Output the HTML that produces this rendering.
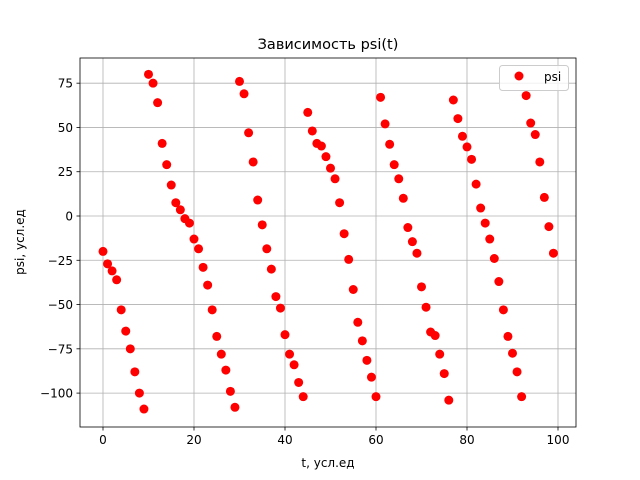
<!DOCTYPE html>
<html><head><meta charset="utf-8"><style>
body{margin:0;background:#fff;}
svg{display:block;font-family:"DejaVu Sans","Liberation Sans",sans-serif;}
</style></head><body>
<svg id="chart" width="640" height="480"></svg>
<script>
const tValues=[...Array(100).keys()];
const psiValues=[-20,-27,-31,-36,-53,-65,-75,-88,-100,-109,
80,75,64,41,29,17.5,7.5,3.5,-1.5,-4,
-13,-18.5,-29,-39,-53,-68,-78,-87,-99,-108,
76,69,47,30.5,9,-5,-18.5,-30,-45.5,-52,
-67,-78,-84,-94,-102,58.5,48,41,39.5,33.5,
27,21,7.5,-10,-24.5,-41.5,-60,-70.5,-81.5,-91,
-102,67,52,40.5,29,21,10,-6.5,-14.5,-21,
-40,-51.5,-65.5,-67.5,-78,-89,-104,65.5,55,45,
39,32,18,4.5,-4,-13,-24,-37,-53,-68,
-77.5,-88,-102,68,52.5,46,30.5,10.5,-6,-21];
const xTicks=[0,20,40,60,80,100];
const yTicks=[75,50,25,0,-25,-50,-75,-100];
const yTickLabels=["75","50","25","0","\u221225","\u221250","\u221275","\u2212100"];

const L=80,R=576,T=58,B=427;
const xS=v=>103+v*4.55;
const yS=v=>216-v*1.771;
const svg=document.getElementById('chart');
const NS='http://www.w3.org/2000/svg';
function mk(tag,attrs,parent){const e=document.createElementNS(NS,tag);for(const k in attrs)e.setAttribute(k,attrs[k]);(parent||svg).appendChild(e);return e;}

const grid=mk('g',{});


xTicks.forEach((t,i)=>{
  const x=xS(t);
  mk('line',{x1:x,x2:x,y1:T,y2:B,stroke:'#b0b0b0','stroke-width':0.8},grid);
  mk('line',{x1:x,x2:x,y1:B,y2:B+3.5,stroke:'#000','stroke-width':0.8});
  const tx=mk('text',{x:x,y:B+17,'text-anchor':'middle','font-size':12,fill:'#000'});
  tx.textContent=String(t);
  
  
});
yTicks.forEach((t,i)=>{
  const y=yS(t);
  mk('line',{x1:L,x2:R,y1:y,y2:y,stroke:'#b0b0b0','stroke-width':0.8},grid);
  mk('line',{x1:L-3.5,x2:L,y1:y,y2:y,stroke:'#000','stroke-width':0.8});
  const tx=mk('text',{x:L-7,y:y+4.5,'text-anchor':'end','font-size':12,fill:'#000'});
  tx.textContent=yTickLabels[i];
  
  
});
const pts=mk('g',{});


psiValues.forEach((v,i)=>{
  const c=mk('circle',{cx:xS(tValues[i]),cy:yS(v),r:4.5,fill:'#ff0000'},pts);
  
  
});
const frame=mk('rect',{x:L,y:T,width:R-L,height:B-T,fill:'none',stroke:'#000','stroke-width':0.8});


</script>
<svg width="640" height="480" style="position:absolute;left:0;top:0">
<text x="328" y="49" text-anchor="middle" font-size="14.5">Зависимость psi(t)</text>
<text x="328" y="467" text-anchor="middle" font-size="12">t, усл.ед</text>
<text x="0" y="0" transform="translate(24,242) rotate(-90)" text-anchor="middle" font-size="12">psi, усл.ед</text>
<g>
<rect x="499.5" y="65.5" width="69" height="25" rx="3" fill="#fff" fill-opacity="0.8" stroke="#ccc"/>
<circle cx="519" cy="76" r="4.5" fill="#ff0000"/>
<text x="544" y="81" font-size="12">psi</text>
</g>
</svg>
</body></html>
